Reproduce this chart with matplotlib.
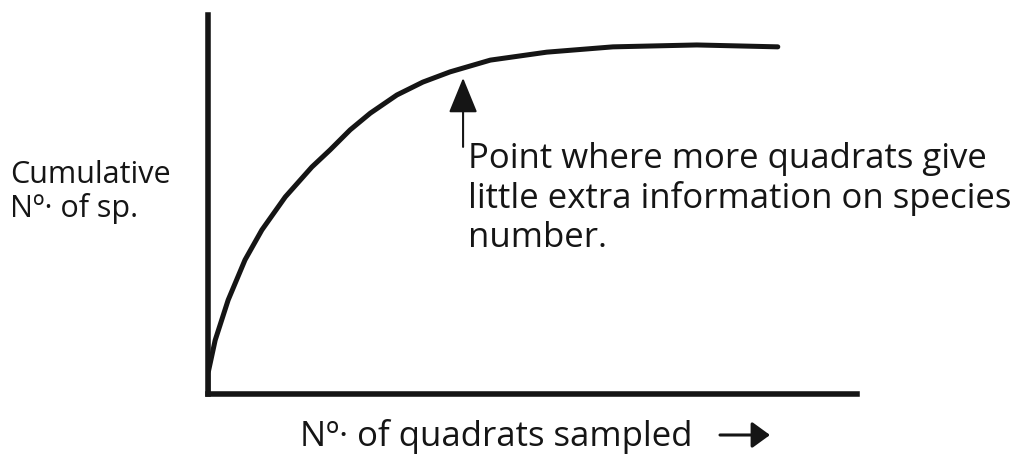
"""
Species-area style sketch: cumulative number of species against
number of quadrats sampled, with the levelling-off point marked.
"""

import matplotlib.pyplot as plt
from matplotlib.patches import FancyArrowPatch

# Curve read as (quadrats, cumulative species) on a 0-100 scale
quadrats = [0, 0, 1.1, 3.1, 5.7, 8.3, 11.9, 16.0, 18.8, 21.9, 25.0,
            29.1, 33.1, 37.3, 43.5, 52.2, 62.4, 75.3, 87.8]
species = [0, 5.5, 14.2, 24.8, 35.4, 43.3, 52.0, 59.9, 64.4, 69.7, 74.1,
           78.9, 82.3, 85.0, 88.1, 90.2, 91.6, 92.1, 91.6]

# Where the curve starts to flatten out
plateau_x = 39.3
plateau_y = 83.4
arrow_tail_y = 65.2

note_text = ("Point where more quadrats give\n"
             "little extra information on species\n"
             "number.")
y_label = "Cumulative\nNº· of sp."
x_label = "Nº· of quadrats sampled"

INK = "#151515"
FONT = ["Open Sans", "DejaVu Sans"]

fig = plt.figure(figsize=(10.35, 4.55), dpi=100)
ax = fig.add_axes([0.201, 0.134, 0.627, 0.833])

ax.plot(quadrats, species, color=INK, linewidth=3.6,
        solid_capstyle="round", solid_joinstyle="round")

ax.set_xlim(0, 100)
ax.set_ylim(0, 100)

# Bare axes: just two thick lines, no ticks
for side in ("top", "right"):
    ax.spines[side].set_visible(False)
for side in ("left", "bottom"):
    ax.spines[side].set_linewidth(4)
    ax.spines[side].set_color(INK)
ax.set_xticks([])
ax.set_yticks([])

# Arrow pointing at the plateau
ax.annotate("", xy=(plateau_x, plateau_y), xytext=(plateau_x, arrow_tail_y),
            arrowprops=dict(arrowstyle="-|>,head_length=2.2,head_width=0.9",
                            color=INK, lw=1.5, mutation_scale=10,
                            shrinkA=0, shrinkB=0))

fig.text(468 / 1035, 1 - 142 / 455, note_text, family=FONT,
         fontsize=25, color=INK, ha="left", va="top",
         linespacing=1.18)

fig.text(10 / 1035, 1 - 192 / 455, y_label, family=FONT,
         fontsize=22, color=INK, ha="left", va="center",
         linespacing=1.1)

fig.text(300 / 1035, 1 - 437 / 455, x_label, family=FONT,
         fontsize=25, color=INK, ha="left", va="center")

# Arrow after the x label
fig.patches.append(FancyArrowPatch(
    (720 / 1035, 1 - 435 / 455), (770 / 1035, 1 - 435 / 455),
    transform=fig.transFigure, arrowstyle="-|>,head_length=1.1,head_width=0.8",
    mutation_scale=10, color=INK, lw=2.2, shrinkA=0, shrinkB=0))

fig.savefig("out.png", dpi=100, facecolor="white")
